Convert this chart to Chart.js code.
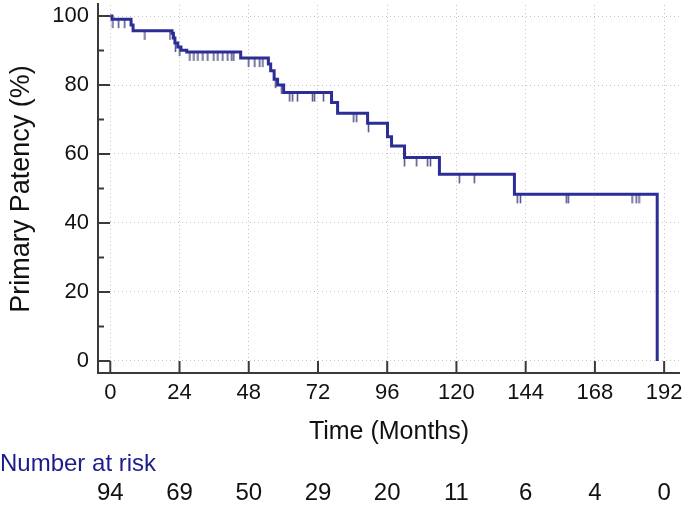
<!DOCTYPE html>
<html>
<head>
<meta charset="utf-8">
<script src="https://cdn.jsdelivr.net/npm/chart.js@4/dist/chart.umd.min.js"></script>
<style>
  body { margin: 0; background: #fff; }
</style>
</head>
<body>
<canvas id="km" width="685" height="508"></canvas>
<script>
// Kaplan-Meier steps: time (months) and primary patency (%) after each event
const stepTimes = [0, 0.6, 7.2, 7.9, 21.4, 21.9, 22.4, 23.4, 24.5, 26.5, 45.2, 54.8, 55.6, 56.8, 58.0, 60.1, 76.7, 78.8, 89.2, 96.1, 97.5, 102.0, 114.1, 140.1, 189.6];
const stepValues = [100, 99.1, 97.4, 95.7, 95.0, 93.6, 92.2, 91.0, 90.1, 89.6, 87.8, 86.1, 84.1, 81.7, 80.0, 77.8, 74.9, 71.8, 68.9, 65.0, 62.3, 59.0, 54.1, 48.3, 0];

// censored observations
const censorTimes = [0.9, 2.9, 5.0, 12.0, 20.7, 22.6, 24.1,
  27.6, 29.0, 30.4, 32.1, 33.8, 35.9, 37.3, 39.0, 40.7, 42.1, 42.8,
  48.0, 50.1, 51.8, 52.9, 57.3, 59.4,
  62.2, 63.2, 64.9, 70.1, 70.8, 73.9, 84.4, 85.4, 89.5,
  102.0, 106.2, 110.0, 111.0, 121.0, 126.2,
  141.1, 142.2, 158.1, 158.8, 180.9, 182.3, 183.3];
const censorValues = [99.1, 99.1, 99.1, 95.7, 95.7, 92.2, 91.0,
  89.6, 89.6, 89.6, 89.6, 89.6, 89.6, 89.6, 89.6, 89.6, 89.6, 89.6,
  87.8, 87.8, 87.8, 87.8, 81.7, 80.0,
  77.8, 77.8, 77.8, 77.8, 77.8, 77.8, 71.8, 71.8, 68.9,
  59.0, 59.0, 59.0, 59.0, 54.1, 54.1,
  48.3, 48.3, 48.3, 48.3, 48.3, 48.3, 48.3];

const xTicks = [0, 24, 48, 72, 96, 120, 144, 168, 192];
const yTicks = [0, 20, 40, 60, 80, 100];
const yMinorTicks = [10, 30, 50, 70, 90];
const atRisk = [94, 69, 50, 29, 20, 11, 6, 4, 0];

const lineColor = "#2d2d96";
const fontFamily = "'Liberation Sans', Arial, sans-serif";

// small hanging tick used as the censor mark
const censorMark = document.createElement("canvas");
censorMark.width = 3;
censorMark.height = 20;
(function () {
  const c = censorMark.getContext("2d");
  c.strokeStyle = "#58588e";
  c.lineWidth = 1.6;
  c.beginPath();
  c.moveTo(1.5, 10);
  c.lineTo(1.5, 19);
  c.stroke();
})();

const axesPlugin = {
  id: "axesPlugin",
  afterDraw(chart) {
    const ctx = chart.ctx;
    const area = chart.chartArea;
    const xs = chart.scales.x;
    const ys = chart.scales.y;
    ctx.save();
    ctx.strokeStyle = "#3a3a3a";
    ctx.lineWidth = 2;
    ctx.beginPath();
    ctx.moveTo(area.left, area.top - 2);
    ctx.lineTo(area.left, area.bottom);
    ctx.lineTo(area.right, area.bottom);
    ctx.stroke();
    ctx.beginPath();
    yTicks.forEach(v => {
      const y = ys.getPixelForValue(v);
      ctx.moveTo(area.left, y);
      ctx.lineTo(area.left + 12, y);
    });
    yMinorTicks.forEach(v => {
      const y = ys.getPixelForValue(v);
      ctx.moveTo(area.left, y);
      ctx.lineTo(area.left + 6, y);
    });
    xTicks.forEach(v => {
      const x = xs.getPixelForValue(v);
      ctx.moveTo(x, area.bottom);
      ctx.lineTo(x, area.bottom - 12);
    });
    ctx.stroke();

    // number at risk table
    ctx.font = "24px " + fontFamily;
    ctx.textBaseline = "middle";
    ctx.fillStyle = "#1c1c8c";
    ctx.textAlign = "left";
    ctx.fillText("Number at risk", 0, 464);
    ctx.fillStyle = "#111";
    ctx.textAlign = "center";
    xTicks.forEach((v, i) => {
      ctx.fillText(String(atRisk[i]), xs.getPixelForValue(v), 493);
    });
    ctx.restore();
  }
};

new Chart(document.getElementById("km"), {
  type: "line",
  data: {
    datasets: [
      {
        label: "Primary patency",
        data: stepTimes.map((t, i) => ({ x: t, y: stepValues[i] })),
        borderColor: lineColor,
        borderWidth: 3,
        stepped: true,
        pointRadius: 0,
        fill: false,
      },
      {
        type: "scatter",
        label: "Censored",
        data: censorTimes.map((t, i) => ({ x: t, y: censorValues[i] })),
        pointStyle: censorMark,
        pointRadius: 4,
      },
    ],
  },
  options: {
    responsive: false,
    animation: false,
    layout: { padding: { top: 5, right: 4, bottom: 61, left: 0 } },
    plugins: { legend: { display: false }, tooltip: { enabled: false } },
    scales: {
      x: {
        type: "linear",
        min: -4.26,
        max: 197.5,
        afterBuildTicks(scale) { scale.ticks = xTicks.map(v => ({ value: v })); },
        afterFit(scale) {
          scale.height = 74;
          scale.paddingLeft = 0;
          scale.paddingRight = 0;
        },
        grid: { color: "#c4c4c4", lineWidth: 1, drawTicks: false },
        border: { display: false, dash: [1, 3] },
        ticks: {
          autoSkip: false, maxRotation: 0, padding: 7, color: "#111",
          font: { family: fontFamily, size: 22 },
        },
        title: {
          display: true, text: "Time (Months)", color: "#111",
          font: { family: fontFamily, size: 25 }, padding: { top: 0, bottom: 0 },
        },
      },
      y: {
        min: -3.5,
        max: 103.2,
        afterBuildTicks(scale) { scale.ticks = yTicks.map(v => ({ value: v })); },
        afterFit(scale) {
          scale.width = 98;
          scale.paddingTop = 0;
          scale.paddingBottom = 0;
        },
        grid: { color: "#c4c4c4", lineWidth: 1, drawTicks: false },
        border: { display: false, dash: [1, 3] },
        ticks: { padding: 9, color: "#111", font: { family: fontFamily, size: 22 } },
        title: {
          display: true, text: "Primary Patency (%)", color: "#111",
          font: { family: fontFamily, size: 27 }, padding: { top: 5, bottom: 0 },
        },
      },
    },
  },
  plugins: [axesPlugin],
});
</script>
</body>
</html>
